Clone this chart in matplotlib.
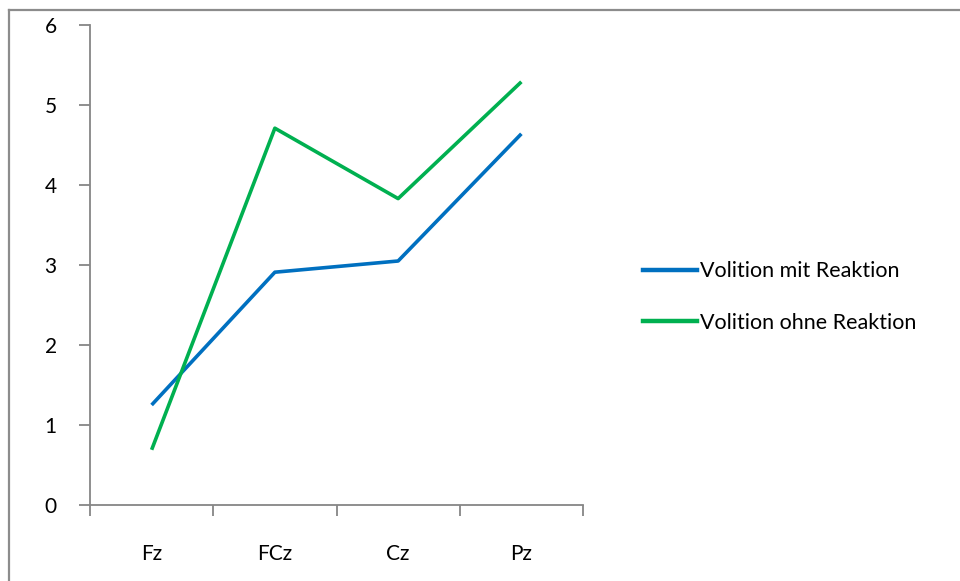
import matplotlib
matplotlib.use("Agg")
import matplotlib.pyplot as plt
from matplotlib.lines import Line2D

categories = ["Fz", "FCz", "Cz", "Pz"]
mit_reaktion = [1.25, 2.91, 3.05, 4.64]
ohne_reaktion = [0.69, 4.71, 3.83, 5.29]
series_names = ["Volition mit Reaktion", "Volition ohne Reaktion"]

plt.rcParams["font.family"] = ["Lato", "DejaVu Sans"]

W, H = 960, 581
fig = plt.figure(figsize=(W / 100, H / 100), dpi=100)
ax = fig.add_axes([90 / W, (H - 505) / H, (583 - 90) / W, (505 - 25) / H])

x = range(len(categories))
ax.plot(x, mit_reaktion, color="#0070C0", lw=2.6, solid_capstyle="butt")
ax.plot(x, ohne_reaktion, color="#00B050", lw=2.6, solid_capstyle="butt")

ax.set_xlim(-0.5, len(categories) - 0.5)
ax.set_ylim(0, 6)
ax.set_yticks(range(7))
ax.set_xticks([i - 0.5 for i in range(len(categories) + 1)])
ax.set_xticklabels([])
ax.set_xticks(list(x), minor=True)
ax.set_xticklabels(categories, minor=True)
ax.tick_params(axis="x", which="minor", length=0, pad=28, labelsize=15)
ax.tick_params(axis="x", which="major", length=8, color="#868686", width=1.3)
ax.tick_params(axis="y", length=8, color="#868686", width=1.3, pad=16, labelsize=15)

for s in ["top", "right"]:
    ax.spines[s].set_visible(False)
for s in ["left", "bottom"]:
    ax.spines[s].set_color("#868686")
    ax.spines[s].set_linewidth(1.3)

handles = [Line2D([], [], color="#0070C0", lw=3.2),
           Line2D([], [], color="#00B050", lw=3.2)]
fig.legend(handles, series_names, loc="center left",
           bbox_to_anchor=(624 / W, 1 - 297 / H), frameon=False,
           fontsize=15.5, handlelength=2.5, handletextpad=0.15, labelspacing=1.45)

# outer chart border (only top and left visible)
fig.add_artist(Line2D([8.5 / W, 1], [1 - 10 / H, 1 - 10 / H],
                      color="#8c8c8c", lw=1.6, transform=fig.transFigure))
fig.add_artist(Line2D([8.5 / W, 8.5 / W], [0, 1 - 10 / H],
                      color="#8c8c8c", lw=1.6, transform=fig.transFigure))

fig.savefig("out.png", dpi=100)
